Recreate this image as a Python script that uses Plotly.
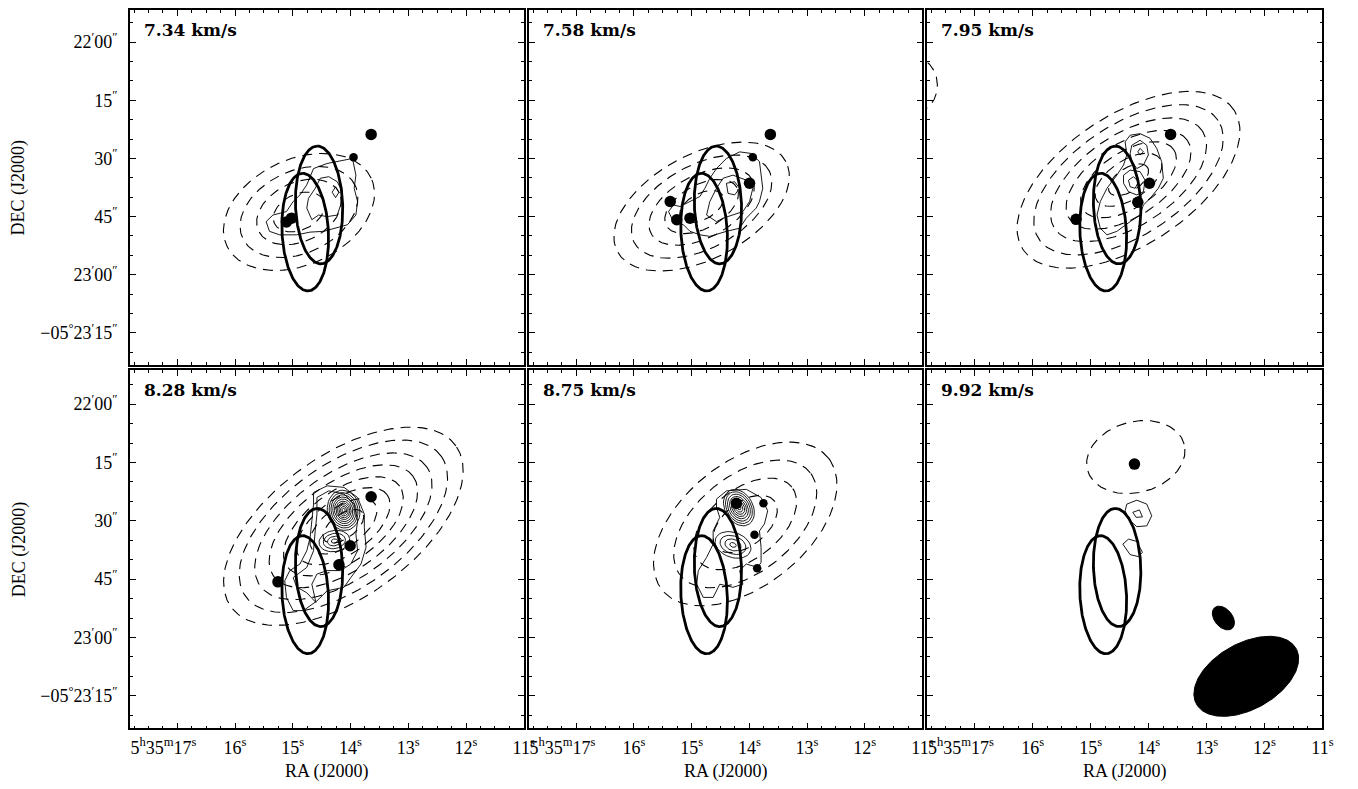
import numpy as np
import plotly.graph_objects as go

PAGE_W, PAGE_H = 1358, 789
OFF = 8                      # default page body margin (both sides)
W, H = PAGE_W - 2 * OFF, PAGE_H - 2 * OFF
ARCSEC_PER_RA_S = 14.93      # 15 * cos(dec)

# ---------------- data ----------------
VELOCITIES = ["7.34 km/s", "7.58 km/s", "7.95 km/s", "8.28 km/s", "8.75 km/s", "9.92 km/s"]

RA_TICKS = [17, 16, 15, 14, 13, 12, 11]          # seconds of 5h35m
RA_LABELS = ["5<sup>h</sup>35<sup>m</sup>17<sup>s</sup><span style='color:rgba(0,0,0,0)'>35<sup>m</sup></span>",
             "16<sup>s</sup>", "15<sup>s</sup>", "14<sup>s</sup>", "13<sup>s</sup>", "12<sup>s</sup>", "11<sup>s</sup>"]
DEC_TICKS = [0, 15, 30, 45, 60, 75]             # arcsec south of -05d22m00s
DEC_LABELS = ["22<sup>′</sup>00<sup>″</sup>", "15<sup>″</sup>", "30<sup>″</sup>", "45<sup>″</sup>",
              "23<sup>′</sup>00<sup>″</sup>", "−05<sup>°</sup>23<sup>′</sup>15<sup>″</sup>"]
RA_RANGE = [17.82, 11.0]
DEC_RANGES = [[83.3, -8.3], [83.4, -8.7]]

# thick outlined ellipses (same in every channel)
ELL_RA = [14.785, 14.545]
ELL_DEC = [49.0, 42.0]
ELL_A = [15.2, 15.2]
ELL_B = [6.0, 6.1]
ELL_PA = [93, 92]

# beams (last panel)
BEAM_RA = [12.315, 12.71]
BEAM_DEC = [70.0, 55.0]
BEAM_A = [14.7, 3.5]
BEAM_B = [8.5, 2.3]
BEAM_PA = [29, -50]

# dashed (low-resolution) contours: centre, outer semi-axes, PA, relative level sizes
DASH_RA = [14.893, 14.828, 14.348, 14.124, 14.072, 14.222]
DASH_DEC = [43.8, 42.4, 35.5, 31.4, 30.8, 13.6]
DASH_A = [20.6, 24.7, 32.6, 35.7, 27.4, 12.9]
DASH_B = [13.6, 13.5, 16.8, 18.3, 16.0, 9.1]
DASH_PA = [25, 28, 33.5, 35.4, 38, 15]
DASH_LEVELS = [
    [1.0, 0.78, 0.56, 0.34],
    [1.0, 0.8, 0.6, 0.42, 0.25],
    [1.0, 0.85, 0.7, 0.56, 0.43, 0.30, 0.18],
    [1.0, 0.87, 0.74, 0.62, 0.5, 0.39, 0.28, 0.17],
    [1.0, 0.78, 0.56, 0.35],
    [1.0],
]
# partial dashed contour entering panel 3 from the left edge
EDGE_RA, EDGE_DEC, EDGE_A, EDGE_B, EDGE_PA = 18.05, 11.1, 7.2, 6.0, 90

# compact sources (filled dots)
DOT_RA = [
    [13.643, 13.948, 15.110, 15.022],
    [13.636, 13.940, 13.997, 15.372, 15.258, 15.029],
    [13.621, 13.987, 14.188, 15.253],
    [13.643, 14.007, 14.201, 15.257],
    [14.226, 13.756, 13.911, 13.865],
    [14.245],
]
DOT_DEC = [
    [23.8, 29.7, 46.4, 45.4],
    [23.8, 29.7, 36.4, 41.1, 45.8, 45.4],
    [23.8, 36.4, 41.3, 45.7],
    [23.8, 36.4, 41.3, 45.7],
    [25.5, 25.5, 33.6, 42.2],
    [15.4],
]
DOT_BIG = [
    [1, 0, 1, 1],
    [1, 0, 1, 1, 1, 1],
    [1, 1, 1, 1],
    [1, 1, 1, 1],
    [1, 0, 0, 0],
    [1],
]

# thin (high-resolution) contours, vertices as (RA s, arcsec south of 22'00")
P1_CONTOURS = [
    [(15.404, 48.8), (15.462, 46.3), (15.345, 44.6), (15.110, 43.7), (14.993, 41.1), (14.876, 39.4),
     (14.758, 36.8), (14.641, 32.6), (14.406, 31.3), (14.171, 30.7), (13.966, 30.0), (13.907, 34.3),
     (13.937, 37.7), (13.878, 41.1), (13.907, 44.6), (14.054, 47.1), (14.259, 48.0), (14.465, 48.8),
     (14.700, 49.0), (14.934, 49.7), (15.228, 49.7)],
    [(14.758, 42.8), (14.729, 40.3), (14.612, 37.7), (14.523, 35.1), (14.377, 34.7), (14.230, 36.0),
     (14.142, 38.6), (14.171, 42.0), (14.230, 44.6), (14.406, 45.0), (14.553, 44.6), (14.670, 45.8)],
    [(14.259, 37.3), (14.201, 38.7), (14.259, 40.1), (14.318, 38.7)],
]
P2_CONTOURS = [
    [(15.401, 43.7), (15.315, 42.0), (15.201, 42.4), (15.029, 41.1), (14.857, 39.8), (14.771, 37.7),
     (14.685, 35.1), (14.570, 32.6), (14.398, 30.0), (14.169, 28.3), (13.968, 28.7), (13.825, 30.8),
     (13.797, 34.3), (13.768, 37.7), (13.825, 41.1), (13.882, 42.8), (14.054, 45.4), (14.169, 48.0),
     (14.398, 48.8), (14.570, 49.7), (14.685, 50.1), (14.857, 49.7), (15.029, 48.8), (15.143, 47.1),
     (15.315, 46.3)],
    [(14.742, 44.6), (14.685, 41.1), (14.570, 37.7), (14.456, 35.1), (14.284, 34.3), (14.054, 35.6),
     (13.940, 37.7), (13.997, 41.1), (14.112, 43.7), (14.284, 44.6), (14.456, 45.4), (14.570, 46.3)],
    [(14.398, 36.4), (14.255, 36.0), (14.169, 37.7), (14.255, 39.4), (14.370, 39.0)],
]
P3_CONTOURS = [
    [(14.406, 25.7), (14.320, 24.0), (14.148, 23.6), (13.976, 24.8), (13.861, 27.4), (13.776, 30.8),
     (13.747, 35.1), (13.833, 37.7), (13.976, 40.3), (14.091, 42.0), (14.148, 44.6), (14.320, 46.3),
     (14.549, 48.8), (14.720, 49.7), (14.835, 48.0), (14.892, 44.6), (14.835, 41.1), (14.720, 37.7),
     (14.549, 34.3), (14.434, 31.7), (14.377, 29.1)],
    [(14.291, 26.6), (14.148, 25.3), (14.033, 26.6), (14.005, 29.1), (14.091, 31.7), (14.205, 32.6),
     (14.291, 30.8), (14.320, 28.7)],
    [(14.148, 27.4), (14.091, 28.3), (14.148, 29.1), (14.188, 28.3)],
    [(14.434, 34.3), (14.320, 33.0), (14.148, 33.4), (14.062, 35.6), (14.091, 38.6), (14.205, 39.4),
     (14.348, 38.6), (14.434, 36.4)],
    [(14.348, 35.6), (14.262, 34.7), (14.176, 36.0), (14.234, 37.7), (14.320, 37.3)],
]
P4_CONTOURS = [
    [(14.641, 22.7), (14.406, 21.0), (14.113, 21.4), (13.878, 24.0), (13.761, 28.3), (13.761, 31.7),
     (13.731, 36.8), (13.819, 41.1), (13.995, 44.6), (14.113, 47.1), (14.406, 48.0), (14.582, 50.6),
     (14.817, 53.1), (14.993, 53.1), (15.110, 49.7), (15.140, 45.4), (15.052, 42.8), (14.876, 41.1),
     (14.758, 37.7), (14.700, 34.3), (14.670, 30.0), (14.641, 25.7)],
    [(14.582, 24.0), (14.377, 22.3), (14.113, 23.1), (13.937, 25.7), (13.878, 30.0), (13.907, 33.4),
     (13.878, 37.7), (13.995, 41.1), (14.171, 42.8), (14.406, 42.8), (14.582, 43.7), (14.670, 46.3),
     (14.600, 51.0), (14.758, 48.5), (14.934, 47.0), (14.993, 44.6), (14.758, 42.0), (14.641, 37.7),
     (14.612, 32.6), (14.582, 28.3)],
]
P5_CONTOURS = [
    [(14.570, 24.4), (14.398, 22.3), (14.054, 21.9), (13.797, 24.0), (13.682, 27.4), (13.739, 30.8),
     (13.825, 32.6), (13.797, 36.8), (13.797, 40.7), (13.854, 42.0), (14.054, 41.1), (14.169, 42.8),
     (14.112, 46.3), (14.284, 47.1), (14.513, 46.3), (14.628, 49.7), (14.799, 49.7), (14.914, 46.3),
     (14.885, 42.8), (14.742, 39.4), (14.628, 36.0), (14.628, 32.6), (14.513, 29.1), (14.570, 26.6)],
]
P6_CONTOURS = [
    [(14.377, 25.7), (14.205, 24.7), (14.033, 25.7), (13.947, 28.7), (14.033, 31.3), (14.205, 31.5),
     (14.348, 29.6), (14.406, 27.4)],
    [(14.274, 27.8), (14.159, 27.2), (14.108, 29.0), (14.217, 29.1)],
    [(14.446, 36.0), (14.348, 34.7), (14.205, 35.3), (14.108, 38.1), (14.176, 39.2), (14.320, 38.7)],
]
THIN_CONTOURS = [P1_CONTOURS, P2_CONTOURS, P3_CONTOURS, P4_CONTOURS, P5_CONTOURS, P6_CONTOURS]

# nested compact peaks of the thin contours (panel index, centre, outer semi-axes, PA, level sizes)
PEAK_PANEL = [3, 3, 4, 4]
PEAK_RA = [14.12, 14.28, 14.181, 14.284]
PEAK_DEC = [27.3, 35.2, 26.6, 36.2]
PEAK_A = [5.2, 4.0, 5.0, 4.8]
PEAK_B = [4.2, 2.7, 3.6, 3.2]
PEAK_PA = [100, 10, 120, 160]
PEAK_LEVELS = [
    [1.0, 0.88, 0.77, 0.66, 0.56, 0.46, 0.37, 0.28, 0.19, 0.1],
    [1.0, 0.72, 0.45, 0.2],
    [1.0, 0.87, 0.74, 0.61, 0.49, 0.37, 0.25, 0.13],
    [1.0, 0.72, 0.45, 0.18],
]

# ---------------- layout geometry (page pixels) ----------------
COL_PX = [(131, 528), (533.3, 930), (935, 1333.3)]
ROW_PX = [(8.0, 364), (369.3, 728.3)]


def fx(px):
    return (px - OFF) / W


def fy(px):
    return min(1.0, max(0.0, 1 - (px - OFF) / H))


def ellipse(ra0, dec0, a, b, pa, n=240):
    t = np.linspace(0, 2 * np.pi, n)
    th = np.radians(pa)
    xw = a * np.cos(t) * np.cos(th) - b * np.sin(t) * np.sin(th)
    yn = a * np.cos(t) * np.sin(th) + b * np.sin(t) * np.cos(th)
    return ra0 - xw / ARCSEC_PER_RA_S, dec0 - yn


SERIF = "Liberation Serif"
DASH = "10px,7px"
fig = go.Figure()

for p in range(6):
    r, c = divmod(p, 3)
    xa = "x" if p == 0 else f"x{p + 1}"
    ya = "y" if p == 0 else f"y{p + 1}"
    common = dict(xaxis=xa, yaxis=ya, showlegend=False, hoverinfo="skip")

    # dashed contours
    for s in DASH_LEVELS[p]:
        ex, ey = ellipse(DASH_RA[p], DASH_DEC[p], DASH_A[p] * s, DASH_B[p] * s, DASH_PA[p])
        fig.add_trace(go.Scatter(x=ex, y=ey, mode="lines",
                                 line=dict(color="black", width=1.1, dash=DASH), **common))
    if p == 2:
        ex, ey = ellipse(EDGE_RA, EDGE_DEC, EDGE_A, EDGE_B, EDGE_PA)
        fig.add_trace(go.Scatter(x=ex, y=ey, mode="lines",
                                 line=dict(color="black", width=1.1, dash=DASH), **common))

    # thin contours
    for poly in THIN_CONTOURS[p]:
        px = [v[0] for v in poly] + [poly[0][0]]
        py = [v[1] for v in poly] + [poly[0][1]]
        fig.add_trace(go.Scatter(x=px, y=py, mode="lines",
                                 line=dict(color="black", width=0.9), **common))
    for k in range(len(PEAK_PANEL)):
        if PEAK_PANEL[k] != p:
            continue
        for s in PEAK_LEVELS[k]:
            ex, ey = ellipse(PEAK_RA[k], PEAK_DEC[k], PEAK_A[k] * s, PEAK_B[k] * s, PEAK_PA[k], n=40)
            fig.add_trace(go.Scatter(x=ex, y=ey, mode="lines",
                                     line=dict(color="black", width=0.9), **common))

    # thick ellipses
    for k in range(len(ELL_RA)):
        ex, ey = ellipse(ELL_RA[k], ELL_DEC[k], ELL_A[k], ELL_B[k], ELL_PA[k])
        fig.add_trace(go.Scatter(x=ex, y=ey, mode="lines",
                                 line=dict(color="black", width=2.8), **common))

    # dots
    fig.add_trace(go.Scatter(x=DOT_RA[p], y=DOT_DEC[p], mode="markers",
                             marker=dict(color="black", opacity=1,
                                         size=[11.5 if b else 8.5 for b in DOT_BIG[p]],
                                         line=dict(width=0)), **common))

    # beams
    if p == 5:
        for k in range(len(BEAM_RA)):
            ex, ey = ellipse(BEAM_RA[k], BEAM_DEC[k], BEAM_A[k], BEAM_B[k], BEAM_PA[k])
            fig.add_trace(go.Scatter(x=ex, y=ey, mode="lines", fill="toself", fillcolor="black",
                                     line=dict(color="black", width=1), **common))

    x0, x1 = COL_PX[c]
    y0, y1 = ROW_PX[r]
    axis_common = dict(showline=True, linecolor="black", linewidth=1.6, mirror="allticks",
                       ticks="inside", ticklen=6, tickwidth=1, tickcolor="black",
                       showgrid=False, zeroline=False, fixedrange=True, tickangle=0,
                       tickfont=dict(family=SERIF, size=18, color="black"))
    xk = "xaxis" if p == 0 else f"xaxis{p + 1}"
    yk = "yaxis" if p == 0 else f"yaxis{p + 1}"
    fig.update_layout({
        xk: dict(domain=[fx(x0), fx(x1)], range=RA_RANGE, anchor=ya,
                 tickmode="array", tickvals=RA_TICKS, ticktext=RA_LABELS,
                 showticklabels=(r == 1), ticklabelstandoff=2,
                 minor=dict(ticks="inside", ticklen=3, tickmode="linear", tick0=11, dtick=0.25,
                            tickcolor="black", showgrid=False),
                 **axis_common),
        yk: dict(domain=[fy(y1), fy(y0)], range=DEC_RANGES[r], anchor=xa,
                 tickmode="array", tickvals=DEC_TICKS, ticktext=DEC_LABELS,
                 showticklabels=(c == 0), ticklabelstandoff=7,
                 minor=dict(ticks="inside", ticklen=3, tickmode="linear", tick0=0, dtick=5,
                            tickcolor="black", showgrid=False),
                 **axis_common),
    })

    # velocity label
    fig.add_annotation(x=fx(x0 + 12), y=fy(ROW_PX[r][0] + 20), xref="paper", yref="paper",
                       xanchor="left", yanchor="middle", showarrow=False, text=f"<b>{VELOCITIES[p]}</b>",
                       font=dict(family="DejaVu Serif", size=17, color="black"))

# axis titles
for r in range(2):
    y0, y1 = ROW_PX[r]
    fig.add_annotation(x=fx(19), y=fy((y0 + y1) / 2), xref="paper", yref="paper", textangle=-90,
                       xanchor="center", yanchor="middle",
                       showarrow=False, text="DEC (J2000)",
                       font=dict(family=SERIF, size=18, color="black"))
for c in range(3):
    x0, x1 = COL_PX[c]
    fig.add_annotation(x=fx((x0 + x1) / 2), y=fy(771), xref="paper", yref="paper",
                       xanchor="center", yanchor="middle",
                       showarrow=False, text="RA (J2000)",
                       font=dict(family=SERIF, size=18, color="black"))

fig.update_layout(width=W, height=H, margin=dict(l=0, r=0, t=0, b=0),
                  paper_bgcolor="white", plot_bgcolor="white")

fig.write_html("out.html")
